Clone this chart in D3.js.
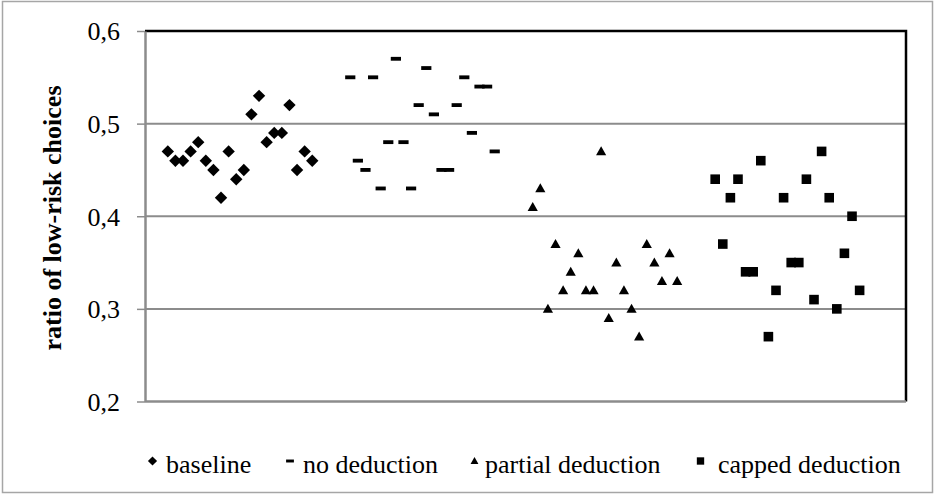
<!DOCTYPE html>
<html>
<head>
<meta charset="utf-8">
<script src="https://cdn.jsdelivr.net/npm/d3@7"></script>
<style>
  html, body { margin: 0; padding: 0; background: #fff; }
  svg { display: block; }
</style>
</head>
<body>
<svg id="chart" width="935" height="495"></svg>
<script>
// ---- data ----
const seriesNames = ["baseline", "no deduction", "partial deduction", "capped deduction"];
const baseline = [0.47,0.46,0.46,0.47,0.48,0.46,0.45,0.42,0.47,0.44,0.45,0.51,0.53,0.48,0.49,0.49,0.52,0.45,0.47,0.46];
const noDeduction = [0.55,0.46,0.45,0.55,0.43,0.48,0.57,0.48,0.43,0.52,0.56,0.51,0.45,0.45,0.52,0.55,0.49,0.54,0.54,0.47];
const partialDeduction = [0.41,0.43,0.30,0.37,0.32,0.34,0.36,0.32,0.32,0.47,0.29,0.35,0.32,0.30,0.27,0.37,0.35,0.33,0.36,0.33];
const cappedDeduction = [0.44,0.37,0.42,0.44,0.34,0.34,0.46,0.27,0.32,0.42,0.35,0.35,0.44,0.31,0.47,0.42,0.30,0.36,0.40,0.32];
const yTicks = [0.2, 0.3, 0.4, 0.5, 0.6];
const yTickLabels = ["0,2", "0,3", "0,4", "0,5", "0,6"];
const groupOffset = 24; // x position of observation i in group g: 1 + i + 24*g

const allSeries = [baseline, noDeduction, partialDeduction, cappedDeduction];
const FONT = "'Liberation Serif', 'Times New Roman', serif";

const svg = d3.select("#chart");

// outer frame
svg.append("rect").attr("x", 2.5).attr("y", 1.5).attr("width", 930).attr("height", 491)
  .attr("fill", "#fff").attr("stroke", "#a6a6a6").attr("stroke-width", 1.5);

const pLeft = 145, pRight = 906, pTop = 31, pBottom = 401.5;
const x = d3.scaleLinear().domain([-2, 98.1]).range([pLeft, pRight]);
const y = d3.scaleLinear().domain([0.2, 0.6]).range([pBottom, pTop]);

// gridlines
svg.append("g").selectAll("line").data(yTicks.filter(t => t > 0.2 && t < 0.6)).join("line")
  .attr("x1", pLeft).attr("x2", pRight)
  .attr("y1", d => y(d)).attr("y2", d => y(d))
  .attr("stroke", "#8c8c8c").attr("stroke-width", 2);

// plot border: top & right black
svg.append("path")
  .attr("d", `M${pLeft},${pTop}H${pRight}V${pBottom}`)
  .attr("fill", "none").attr("stroke", "#000").attr("stroke-width", 2.5);
// bottom axis line gray
svg.append("line").attr("x1", pLeft).attr("x2", pRight).attr("y1", pBottom).attr("y2", pBottom)
  .attr("stroke", "#8c8c8c").attr("stroke-width", 2.5);

// y axis
const yAxis = d3.axisLeft(y).tickValues(yTicks)
  .tickFormat((d, i) => yTickLabels[i]).tickSize(8).tickSizeOuter(0).tickPadding(17);
const gy = svg.append("g").attr("transform", `translate(${pLeft},0)`).call(yAxis)
  .attr("font-family", null).attr("font-size", null);
gy.select(".domain").attr("stroke", "#8c8c8c").attr("stroke-width", 2.5);
gy.selectAll(".tick line").attr("stroke", "#8c8c8c").attr("stroke-width", 1.5);
gy.selectAll(".tick text").style("font-family", FONT)
  .style("font-size", "26px").attr("fill", "#000").attr("dy", "0.34em");

// y title
svg.append("text")
  .attr("transform", `translate(61,218) rotate(-90)`)
  .attr("text-anchor", "middle")
  .style("font-family", FONT)
  .style("font-size", "26px").style("font-weight", "bold")
  .attr("fill", "#000")
  .text("ratio of low-risk choices");

// marker shapes
function markerPath(k, s) {
  if (k === 0) return `M0,${-s}L${s},0L0,${s}L${-s},0Z`;
  if (k === 1) return `M${-s*0.85},${-s*0.32}H${s*0.85}V${s*0.32}H${-s*0.85}Z`;
  if (k === 2) return `M0,${-s*0.85}L${s*0.85},${s*0.65}H${-s*0.85}Z`;
  return `M${-s*0.8},${-s*0.8}H${s*0.8}V${s*0.8}H${-s*0.8}Z`;
}
const markerSize = [6.2, 6, 6, 6];

allSeries.forEach((vals, g) => {
  svg.append("g").selectAll("path").data(vals).join("path")
    .attr("transform", (d, i) => `translate(${x(1 + i + groupOffset * g)},${y(d)})`)
    .attr("d", markerPath(g, markerSize[g]))
    .attr("fill", "#000");
});

// legend
const legendMarkerX = [152.5, 290, 474.5, 700.5];
const legendTextX = [166, 303, 485, 718];
const legendY = 473;
seriesNames.forEach((name, g) => {
  svg.append("path")
    .attr("transform", `translate(${legendMarkerX[g]},${legendY - 12})`)
    .attr("d", markerPath(g, 4.6))
    .attr("fill", "#000");
  svg.append("text").attr("x", legendTextX[g]).attr("y", legendY)
    .style("font-family", FONT)
    .style("font-size", "26px").attr("fill", "#000").text(name);
});
</script>
</body>
</html>
